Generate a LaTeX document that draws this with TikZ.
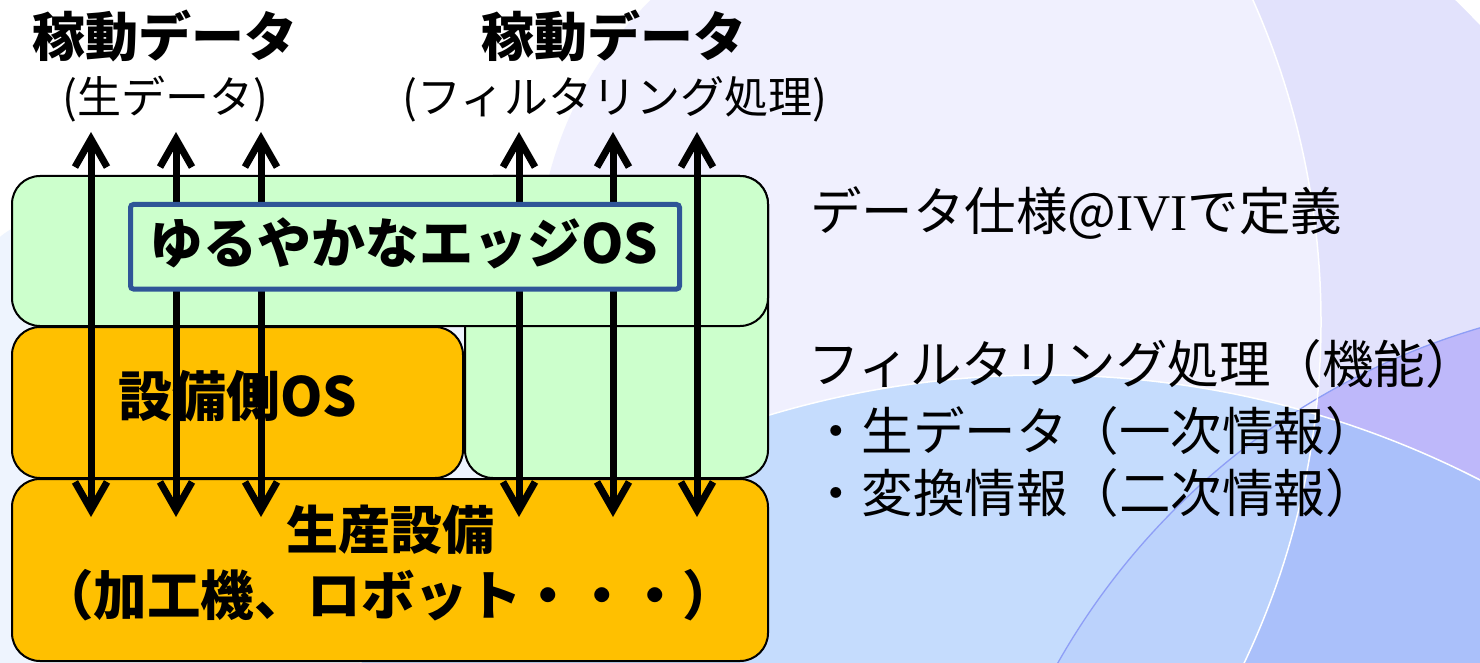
\documentclass[tikz,border=0pt]{standalone}
\usepackage{fontspec}
\newfontfamily\jp{Noto Sans CJK JP}
\newfontfamily\ivi{Liberation Serif}
\usetikzlibrary{arrows.meta}
\definecolor{bgleft}{HTML}{EEF4FE}
\definecolor{lav}{HTML}{F0F0FE}
\definecolor{lavdark}{HTML}{E2E2FC}
\definecolor{purp}{HTML}{BEB8FA}
\definecolor{blueA}{HTML}{C5DCFD}
\definecolor{blueB}{HTML}{BBD2FC}
\definecolor{blueC}{HTML}{AAC0FA}
\definecolor{cline}{HTML}{8E9EF6}
\definecolor{gfill}{HTML}{CCFFCC}
\definecolor{ofill}{HTML}{FFC000}
\definecolor{edgeblue}{HTML}{2F5597}
\tikzset{
  box/.style={draw=black, line width=2pt, rounded corners=28pt, inner sep=0pt},
  gbox/.style={box, fill=gfill},
  obox/.style={box, fill=ofill},
  arr/.style={line width=7pt, {Straight Barb[length=28pt,width=32pt]}-{Straight Barb[length=28pt,width=32pt]}},
  bigtxt/.style={font=\jp\bfseries\fontsize{52}{56}\selectfont, inner sep=0pt},
  subtxt/.style={font=\jp\fontsize{44}{46}\selectfont, inner sep=0pt},
  sidetxt/.style={font=\jp\fontsize{51.5}{56}\selectfont, inner sep=0pt, anchor=west}
}
\begin{document}
\begin{tikzpicture}[x=1pt,y=-1pt]
\useasboundingbox (0,0) rectangle (1480,663);
% ---------- background ----------
\begin{scope}
\clip (0,0) rectangle (1480,663);
\fill[white] (-5,-5) rectangle (1485,668);
\fill[bgleft] (-5,242) .. controls (30,200) and (200,180) .. (560,178) -- (560,670) -- (-5,670) -- cycle;
\begin{scope}
  \clip (528,322) circle[radius=793pt];
  \fill[lav] (917,271) circle[radius=380pt];
  \fill[lav] (917,-10) -- (1490,-10) -- (1490,670) -- (440,670) -- (536,271) -- (917,271) -- cycle;
\end{scope}
\fill[lavdark, even odd rule] (-5,-5) rectangle (1485,668) (528,322) circle[radius=793pt];
\begin{scope}
  \clip (1682,1016) circle[radius=717pt];
  \fill[purp, even odd rule] (-5,-5) rectangle (1485,668) (528,322) circle[radius=793pt];
\end{scope}
\fill[blueA] (1044,1331) circle[radius=956pt];
\begin{scope}
  \clip (1044,1331) circle[radius=956pt];
  \begin{scope}
    \clip (1682,1016) circle[radius=717pt];
    \fill[blueB] (-5,-5) rectangle (1485,668);
  \end{scope}
  \fill[blueC, even odd rule] (-5,-5) rectangle (1485,668) (528,322) circle[radius=793pt];
\end{scope}
\draw[cline, line width=1.3pt] (1682,1016) circle[radius=717pt];
\draw[white, line width=1.5pt] (528,322) circle[radius=793pt];
\draw[white, line width=1.5pt] (1044,1331) circle[radius=956pt];
\fill[white] (1453,-2) .. controls (1463,7) and (1472,17) .. (1482,27) -- (1482,-2) -- cycle;
\end{scope}
% ---------- boxes ----------
\node[gbox, minimum width=303pt, minimum height=302pt] (filt) at (616.5,327) {};
\node[gbox, minimum width=756pt, minimum height=150pt] (edge) at (390,251) {};
\node[obox, minimum width=451pt, minimum height=151pt] (eqos) at (237.5,402.5) {};
\node[obox, minimum width=756pt, minimum height=182pt] (prod) at (390,570) {};
\node[bigtxt, font=\jp\bfseries\fontsize{54}{56}\selectfont] (eqostxt) at (238,396) {設備側OS};
\node[bigtxt] (prodtxt) at (390,530) {生産設備};
\node[bigtxt, font=\jp\bfseries\fontsize{53.5}{56}\selectfont] (prodsub) at (388,595) {（加工機、ロボット・・・）};
% ---------- arrows ----------
\foreach \i/\x in {1/91,2/176,3/261,4/519,5/613,6/697}{
  \coordinate (t\i) at (\x,132);
  \coordinate (b\i) at (\x,517);
  \draw[arr] (t\i) -- (b\i);
}
% ---------- inner edge-OS box ----------
\node[draw=edgeblue, line width=5pt, fill=gfill, rounded corners=3pt, inner sep=0pt,
      minimum width=549pt, minimum height=84.5pt] (eos) at (405,246.75) {};
\node[bigtxt, font=\jp\bfseries\fontsize{54}{56}\selectfont] (eostxt) at (404,243) {ゆるやかなエッジOS};
% ---------- top labels ----------
\node[bigtxt, font=\jp\bfseries\fontsize{53}{56}\selectfont] (raw) at (165,36) {稼動データ};
\node[subtxt] (rawsub) at (165,99) {(生データ)};
\node[bigtxt, font=\jp\bfseries\fontsize{53}{56}\selectfont] (flt) at (614,36) {稼動データ};
\node[subtxt] (fltsub) at (615,99) {(フィルタリング処理)};
% ---------- side texts ----------
\node[sidetxt] (spec) at (810,213) {データ仕様@{\ivi IVI}で定義};
\node[sidetxt] (func) at (808,364) {フィルタリング処理（機能）};
\node[sidetxt] (first) at (810,431) {・生データ（一次情報）};
\node[sidetxt] (second) at (810,493) {・変換情報（二次情報）};
\end{tikzpicture}
\end{document}
